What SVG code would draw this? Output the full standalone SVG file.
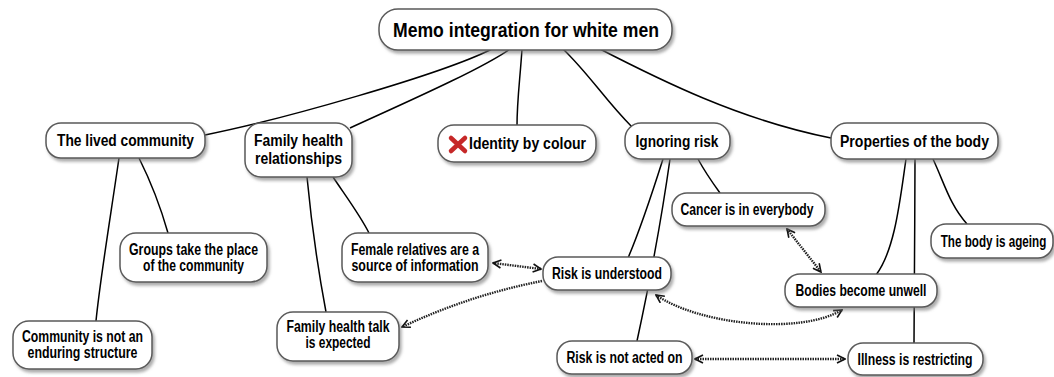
<svg xmlns="http://www.w3.org/2000/svg" width="1054" height="377" viewBox="0 0 1054 377">
<defs>
<filter id="sh" x="-10%" y="-20%" width="120%" height="160%">
<feDropShadow dx="2" dy="3" stdDeviation="1.5" flood-color="#777" flood-opacity="0.6"/>
</filter>
<marker id="arr" viewBox="0 0 10 10" refX="9" refY="5" markerWidth="10" markerHeight="10" markerUnits="userSpaceOnUse" orient="auto-start-reverse">
<path d="M1,1 L9,5 L1,9" fill="none" stroke="#111" stroke-width="1.6" stroke-dasharray="none"/>
</marker>
</defs>
<style>
.n rect{fill:#fff;stroke:#5a5a5a;stroke-width:1.5;filter:url(#sh)}
.n text{font-family:"Liberation Sans",Arial,sans-serif;font-weight:bold;font-size:16px;fill:#000;text-anchor:middle}
#root text{font-size:21px}
.c path{fill:none;stroke:#000;stroke-width:1.5}
.d path{fill:none;stroke:#222;stroke-width:2.4;stroke-dasharray:1.5 1;marker-start:url(#arr);marker-end:url(#arr)}
.d path.one{marker-start:none}
</style>
<g id="connectors">
<g class="c">
<path d="M205,135 C280,120 440,75 492,49"/>
<path d="M350,128 C400,105 480,70 510,49"/>
<path d="M522,49 C520,80 517,100 517,126"/>
<path d="M563,49 C590,75 605,100 632,127"/>
<path d="M598,48 C660,80 740,120 831,138"/>
<path d="M139,158 C150,180 160,205 168,233"/>
<path d="M119,158 C110,220 100,280 96,321"/>
<path d="M333,177 C345,195 360,215 369,233"/>
<path d="M307,177 C312,230 320,280 326,312"/>
<path d="M663,159 C650,200 640,230 628,258"/>
<path d="M670,159 C660,230 648,290 637,341"/>
<path d="M698,159 C705,172 712,182 720,193"/>
<path d="M906,159 C900,200 895,250 876,275"/>
<path d="M915,159 C915,220 914,290 914,343"/>
<path d="M933,159 C945,185 950,205 967,224"/>
</g>
<g class="d">
<path d="M541,269 L493,263"/>
<path class="one" d="M542,281 Q470,295 402,327"/>
<path d="M787,229 L821,272"/>
<path d="M656,295 C700,325 800,335 842,310"/>
<path d="M695,359 L845,359"/>
</g>
</g>
<g id="root" class="n"><rect x="379" y="9" width="293" height="41" rx="19"/><text x="526" y="37" textLength="266" lengthAdjust="spacingAndGlyphs">Memo integration for white men</text></g>
<g id="lived" class="n"><rect x="46" y="123" width="159" height="35" rx="15"/><text x="125.5" y="146" textLength="137" lengthAdjust="spacingAndGlyphs">The lived community</text></g>
<g id="family" class="n"><rect x="245" y="123" width="107" height="54" rx="16"/><text x="298.5" y="146" textLength="89" lengthAdjust="spacingAndGlyphs">Family health</text><text x="298.5" y="164" textLength="87" lengthAdjust="spacingAndGlyphs">relationships</text></g>
<g id="identity" class="n"><rect x="438" y="125" width="158" height="37" rx="16"/><path d="M451,138 L465,151 M465,138 L451,151" fill="none" stroke="#c62828" stroke-width="4.5" stroke-linecap="round"/><text x="527.5" y="149" textLength="117" lengthAdjust="spacingAndGlyphs">Identity by colour</text></g>
<g id="ignoring" class="n"><rect x="625" y="123" width="105" height="36" rx="16"/><text x="677" y="146.5" textLength="83" lengthAdjust="spacingAndGlyphs">Ignoring risk</text></g>
<g id="properties" class="n"><rect x="831" y="123" width="167" height="36" rx="16"/><text x="914.5" y="146.5" textLength="149" lengthAdjust="spacingAndGlyphs">Properties of the body</text></g>
<g id="groups" class="n"><rect x="120" y="233" width="147" height="49" rx="16"/><text x="193.5" y="255" textLength="129" lengthAdjust="spacingAndGlyphs">Groups take the place</text><text x="193.5" y="271" textLength="101" lengthAdjust="spacingAndGlyphs">of the community</text></g>
<g id="community" class="n"><rect x="13" y="321" width="139" height="48" rx="16"/><text x="82.5" y="342" textLength="121" lengthAdjust="spacingAndGlyphs">Community is not an</text><text x="82.5" y="358" textLength="110" lengthAdjust="spacingAndGlyphs">enduring structure</text></g>
<g id="female" class="n"><rect x="342" y="233" width="146" height="49" rx="16"/><text x="415" y="255" textLength="128" lengthAdjust="spacingAndGlyphs">Female relatives are a</text><text x="415" y="271" textLength="127" lengthAdjust="spacingAndGlyphs">source of information</text></g>
<g id="familytalk" class="n"><rect x="277" y="312" width="122" height="49" rx="16"/><text x="338" y="332" textLength="103" lengthAdjust="spacingAndGlyphs">Family health talk</text><text x="338" y="348" textLength="65" lengthAdjust="spacingAndGlyphs">is expected</text></g>
<g id="riskund" class="n"><rect x="543" y="257" width="128" height="33" rx="15"/><text x="607" y="279" textLength="110" lengthAdjust="spacingAndGlyphs">Risk is understood</text></g>
<g id="cancer" class="n"><rect x="672" y="193" width="153" height="33" rx="15"/><text x="747" y="215" textLength="133" lengthAdjust="spacingAndGlyphs">Cancer is in everybody</text></g>
<g id="ageing" class="n"><rect x="931" y="224" width="122" height="34" rx="15"/><text transform="translate(993.5,246.5) scale(0.73,1)" x="0" y="0">The body is ageing</text></g>
<g id="bodies" class="n"><rect x="785" y="274" width="152" height="33" rx="15"/><text x="861" y="296" textLength="131" lengthAdjust="spacingAndGlyphs">Bodies become unwell</text></g>
<g id="notacted" class="n"><rect x="557" y="341" width="135" height="33" rx="15"/><text x="624.5" y="363" textLength="116" lengthAdjust="spacingAndGlyphs">Risk is not acted on</text></g>
<g id="illness" class="n"><rect x="848" y="343" width="135" height="32" rx="15"/><text x="915" y="364.5" textLength="115" lengthAdjust="spacingAndGlyphs">Illness is restricting</text></g>
</svg>
